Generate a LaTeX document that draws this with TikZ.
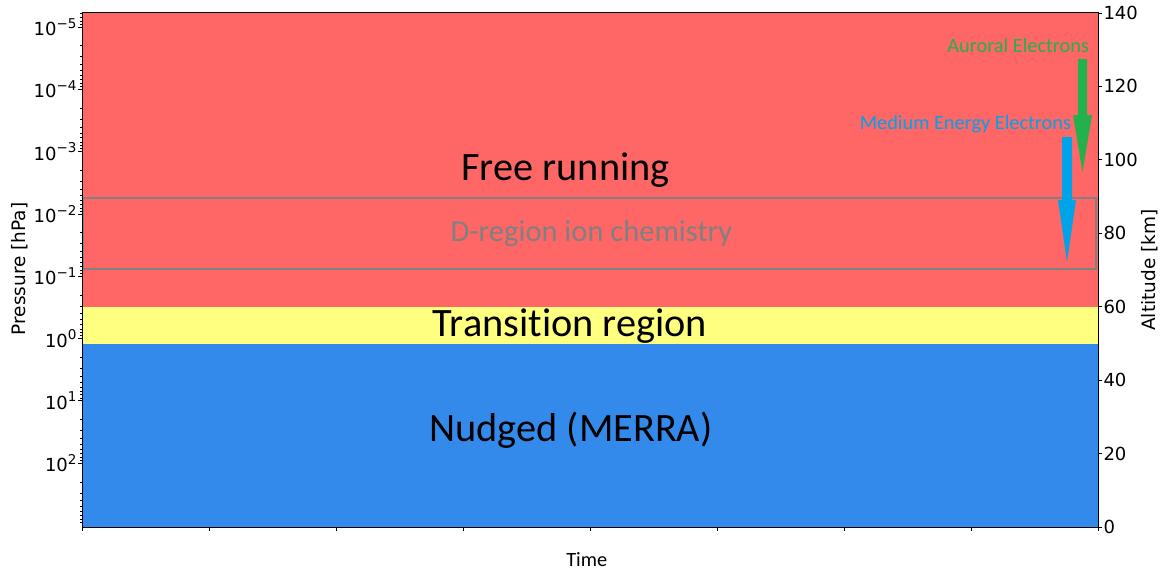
\documentclass[tikz,border=0pt]{standalone}
\usepackage{fontspec}
\setmainfont{Carlito}[Ligatures=NoCommon]
\newfontfamily\dejavu{DejaVu Sans}
\definecolor{freecol}{RGB}{255,102,102}
\definecolor{transcol}{RGB}{255,255,128}
\definecolor{nudgecol}{RGB}{51,138,234}
\definecolor{boxgray}{RGB}{128,128,128}
\definecolor{aurgreen}{RGB}{34,177,76}
\definecolor{meeblue}{RGB}{0,162,232}
\newcommand\ticklab{\dejavu\fontsize{18}{20}\selectfont}
\newcommand\axlab{\dejavu\fontsize{18.5}{21}\selectfont}
\newcommand\bigtxt{\fontsize{40.3}{44}\selectfont}
\newcommand\smalltxt{\fontsize{20.3}{24}\selectfont}
\begin{document}
\begin{tikzpicture}[x=1pt,y=-1pt,
  txt/.style={inner sep=0pt, outer sep=0pt},
  tickline/.style={black, line width=0.8pt},
  bandarrow/.style={draw=none}]
\useasboundingbox (0,0) rectangle (1161,571);

% altitude bands
\fill[freecol]  (82,12.5)  rectangle (1098,306.5);
\fill[transcol] (82,306.5) rectangle (1098,343.5);
\fill[nudgecol] (82,343.5) rectangle (1098,527);

% D-region box
\draw[boxgray, line width=1.6pt] (83,198) rectangle (1096,269);

% region labels
\node[txt, anchor=base] (free) at (565.5,180) {\bigtxt Free running};
\node[txt, anchor=base, text=boxgray] (dreg) at (591.5,241.7) {\fontsize{30.5}{34}\selectfont D-region ion chemistry};
\node[txt, anchor=base] (trans) at (570,336.7) {\bigtxt Transition region};
\node[txt, anchor=base] (nudge) at (571,441.7) {\bigtxt Nudged (MERRA)};

% particle precipitation arrows
\fill[aurgreen, bandarrow] (1078,59) -- (1087,59) -- (1087,115) -- (1092,115) -- (1082.5,172) -- (1073,115) -- (1078,115) -- cycle;
\fill[meeblue, bandarrow] (1062,137) -- (1072,137) -- (1072,200) -- (1076,200) -- (1067,262) -- (1058,200) -- (1062,200) -- cycle;
\node[txt, anchor=base east, text=aurgreen] (aur) at (1089,52.7) {\smalltxt Auroral Electrons};
\node[txt, anchor=base east, text=meeblue] (mee) at (1071,129.5) {\smalltxt Medium Energy Electrons};

% pressure axis (log scale, inverted)
\foreach \k/\e [count=\i] in {-5/−5,-4/−4,-3/−3,-2/−2,-1/−1,0/0,1/1,2/2}{
  \draw[tickline] (82,338.5+62.3*\k) -- ++(-4,0);
  \node[txt, anchor=east] (pl\i) at (76.5,338.5+62.3*\k)
    {\ticklab 10\raisebox{0.42em}{\fontsize{13.5}{15}\selectfont\e}};
}
\foreach \k in {-6,...,2}{
  \foreach \m in {2,...,9}{
    \pgfmathsetmacro\yy{338.5+62.3*(\k+log10(\m))}
    \ifdim\yy pt>12.5pt \ifdim\yy pt<527.5pt
      \draw[black, line width=0.6pt] (82,\yy) -- ++(-2.5,0);
    \fi\fi
  }
}
\node[txt, rotate=90] (plab) at (20,269) {\axlab Pressure [hPa]};

% altitude axis
\foreach \a [count=\i] in {0,20,...,140}{
  \draw[tickline] (1098,527-3.6714*\a) -- ++(4,0);
  \node[txt, anchor=west] (al\i) at (1103.5,527-3.6714*\a) {\ticklab \a};
}
\node[txt, rotate=90] (alab) at (1150,270) {\axlab Altitude [km]};

% time axis
\foreach \i in {0,...,8}{
  \draw[tickline] (82+127*\i,527) -- ++(0,4);
}
\node[txt, anchor=base] (tlab) at (586.7,566) {\smalltxt Time};

% frame
\draw[black, line width=0.8pt] (82,12.5) rectangle (1098,527);
\end{tikzpicture}
\end{document}
